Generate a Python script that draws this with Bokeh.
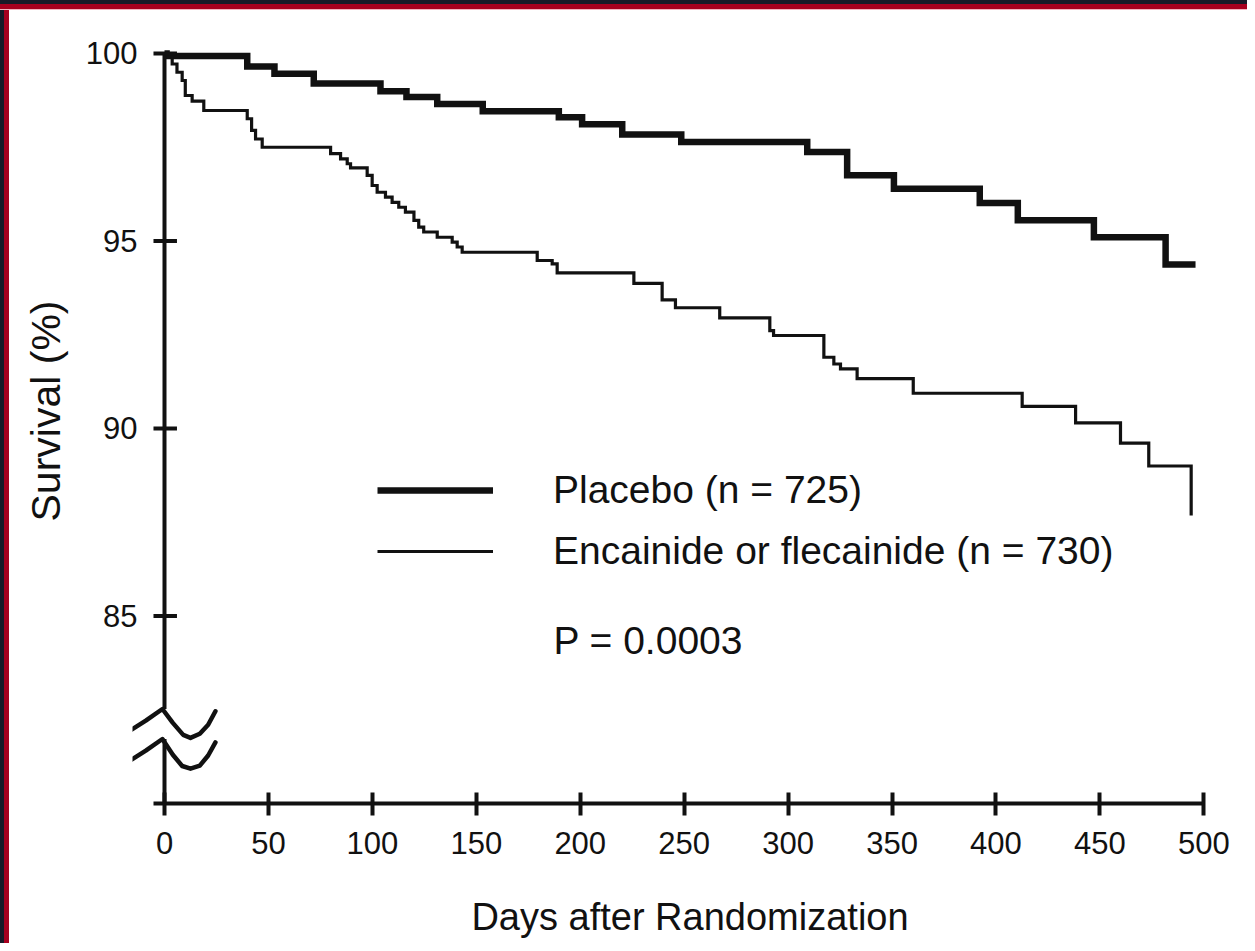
from bokeh.plotting import figure
from bokeh.models import Range1d, FixedTicker, Legend, LegendItem, Label
from bokeh.embed import file_html
from bokeh.resources import INLINE

# ---- data (Kaplan-Meier steps: day of step, survival after step) ----
placebo_days = [0, 1.0, 39.8, 52.9, 71.8, 103.9, 116.4, 131.2, 153.1, 189.7, 200.9,
                220.2, 248.6, 309.2, 328.4, 350.9, 392.2, 410.5, 447.1, 481.6, 496.0]
placebo_surv = [100, 99.93, 99.65, 99.46, 99.20, 98.99, 98.84, 98.65, 98.46, 98.30, 98.11,
                97.84, 97.64, 97.37, 96.75, 96.39, 96.01, 95.55, 95.10, 94.37, 94.37]

drug_days = [0, 3.7, 6.0, 8.5, 10.0, 13.3, 18.9, 39.8, 41.9, 43.8, 47.0,
             79.9, 84.7, 87.9, 89.5, 97.5, 99.9, 102.3, 106.3, 109.5, 112.7, 115.9,
             120.0, 122.3, 124.7, 131.2, 138.4, 140.8, 143.2, 179.3, 186.5, 188.9,
             225.8, 239.4, 245.8, 267.1, 291.2, 293.0, 317.2, 322.0, 325.2, 333.2,
             360.2, 412.6, 438.3, 459.9, 473.5, 493.9]
drug_surv = [100, 99.72, 99.50, 99.28, 98.88, 98.73, 98.48, 98.26, 97.95, 97.72, 97.50,
             97.33, 97.19, 97.06, 96.95, 96.75, 96.48, 96.30, 96.17, 96.03, 95.90, 95.77,
             95.55, 95.37, 95.24, 95.10, 94.97, 94.84, 94.70, 94.48, 94.39, 94.15,
             93.87, 93.43, 93.22, 92.95, 92.61, 92.48, 91.90, 91.72, 91.59, 91.33,
             90.94, 90.59, 90.15, 89.61, 89.00, 87.68]

x_ticks = [0, 50, 100, 150, 200, 250, 300, 350, 400, 450, 500]
y_ticks = [85, 90, 95, 100]

series_labels = ["Placebo (n = 725)", "Encainide or flecainide (n = 730)"]
p_value_text = "P = 0.0003"
x_title = "Days after Randomization"
y_title = "Survival (%)"

# axis-break decoration (shape of the two wavy strokes)
break_upper_x = [-17.9, -9.0, -1.0, 4.0, 9.0, 12.5, 17.0, 21.0, 24.5]
break_upper_y = [81.90, 82.21, 82.52, 82.15, 81.83, 81.75, 81.86, 82.10, 82.46]
break_lower_x = [-17.9, -9.0, -1.0, 4.0, 8.5, 12.5, 17.0, 21.0, 24.5]
break_lower_y = [81.10, 81.41, 81.72, 81.30, 81.00, 80.93, 81.01, 81.28, 81.63]

FONT = "Liberation Sans"
INK = "#111111"

p = figure(width=1247, height=943, output_backend="svg", toolbar_location=None,
           x_range=Range1d(-15.395, 521.0), y_range=Range1d(80.0, 100.9333),
           min_border_left=132, min_border_right=0, min_border_top=18, min_border_bottom=140)
p.background_fill_color = "white"
p.border_fill_alpha = 0.0
p.outline_line_color = None
p.grid.visible = False
# page frame: dark edge + red border along the top and left
p.styles = {
    "background": (
        "linear-gradient(#171a28,#171a28) 0 0/100% 4px no-repeat,"
        "linear-gradient(#a6001f,#a6001f) 0 4px/100% 5px no-repeat,"
        "linear-gradient(#f2b3bf,#f2b3bf) 0 9px/100% 1px no-repeat,"
        "linear-gradient(#171a28,#171a28) 0 0/4px 100% no-repeat,"
        "linear-gradient(#a6001f,#a6001f) 4px 0/5px 100% no-repeat,"
        "#ffffff"
    )
}

# survival curves
r_pl = p.step(placebo_days, placebo_surv, mode="after", line_color=INK, line_width=6.5,
              line_join="miter")
r_dr = p.step(drug_days, drug_surv, mode="after", line_color=INK, line_width=3.2,
              line_join="miter")

# y axis drawn by hand with a break
axis_top = y_ticks[-1]
p.segment(x0=[0, 0], y0=[axis_top, break_lower_y[2]], x1=[0, 0], y1=[break_upper_y[2], 80.0],
          line_color=INK, line_width=4)
p.segment(x0=[-5.3] * len(y_ticks), x1=[6.0] * len(y_ticks), y0=y_ticks, y1=y_ticks,
          line_color=INK, line_width=4)
p.line(break_upper_x, break_upper_y, line_color=INK, line_width=4.5, line_cap="round",
       line_join="round")
p.line(break_lower_x, break_lower_y, line_color=INK, line_width=4.5, line_cap="round",
       line_join="round")

# x axis
xa = p.xaxis[0]
xa.ticker = FixedTicker(ticks=x_ticks)
xa.bounds = (-5.5, 500)
xa.axis_line_width = 4
xa.axis_line_color = INK
xa.major_tick_in = 11
xa.major_tick_out = 12
xa.major_tick_line_width = 4
xa.major_tick_line_color = INK
xa.minor_tick_line_color = None
xa.major_label_text_font = FONT
xa.major_label_text_font_size = "31px"
xa.major_label_text_color = INK
xa.major_label_standoff = 16
xa.axis_label = x_title
xa.axis_label_text_font = FONT
xa.axis_label_text_font_size = "38px"
xa.axis_label_text_font_style = "normal"
xa.axis_label_text_color = INK
xa.axis_label_standoff = 39

# y axis (labels only; line and ticks drawn above)
ya = p.yaxis[0]
ya.ticker = FixedTicker(ticks=y_ticks)
ya.axis_line_color = None
ya.major_tick_line_color = None
ya.minor_tick_line_color = None
ya.major_tick_in = 0
ya.major_tick_out = 0
ya.major_label_text_font = FONT
ya.major_label_text_font_size = "31px"
ya.major_label_text_color = INK
ya.major_label_standoff = -5
ya.axis_label = y_title
ya.axis_label_text_font = FONT
ya.axis_label_text_font_size = "41px"
ya.axis_label_text_font_style = "normal"
ya.axis_label_text_color = INK
ya.axis_label_standoff = 14

legend = Legend(items=[LegendItem(label=series_labels[0], renderers=[r_pl]),
                       LegendItem(label=series_labels[1], renderers=[r_dr])],
                location=(245, 230), orientation="vertical",
                glyph_width=116, glyph_height=20, label_standoff=60, spacing=17,
                padding=0, margin=0, border_line_color=None, background_fill_alpha=0,
                label_text_font=FONT, label_text_font_size="39px", label_text_color=INK)
p.add_layout(legend)

p.add_layout(Label(x=187.1, y=84.35, text=p_value_text, text_font=FONT, text_font_size="39px",
                   text_color=INK, text_align="left", text_baseline="middle"))

open("out.html", "w").write(file_html(p, INLINE))
